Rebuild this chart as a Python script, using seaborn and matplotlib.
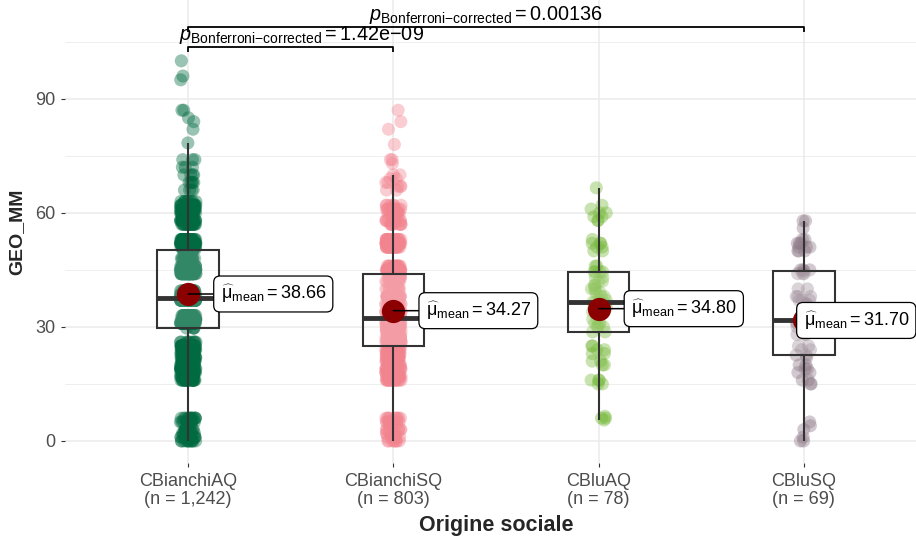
import numpy as np
import pandas as pd
import matplotlib
matplotlib.use("Agg")
import matplotlib.pyplot as plt
import matplotlib.transforms as mtransforms
import seaborn as sns

# ---- data -------------------------------------------------------------
categories = ["CBianchiAQ", "CBianchiSQ", "CBluAQ", "CBluSQ"]
group_sizes = [1242, 803, 78, 69]

# GEO_MM scores per group: distinct score values and how many pupils got each
aq_values = [0, 1, 2, 3, 5, 6,
             16, 17, 18, 19, 20, 21, 22, 23, 24, 25, 26,
             29.7, 31, 32, 33, 37, 37.6, 38.5, 39.5, 44, 45, 46, 48, 50.3,
             51, 52, 53, 57, 58, 60, 61, 62, 63,
             66, 68, 70, 72, 74, 78.4, 82, 84, 85, 87, 95, 96, 100]
aq_counts = [12, 10, 11, 12, 12, 13,
             25, 20, 25, 25, 20, 25, 25, 20, 25, 20, 10,
             4, 60, 60, 30, 80, 80, 60, 20, 60, 80, 40, 20, 30,
             40, 60, 30, 25, 30, 30, 30, 25, 10,
             4, 5, 4, 3, 3, 1, 1, 1, 1, 2, 1, 1, 1]

sq_values = [0, 1, 2, 3, 5, 6,
             16, 17, 18, 19, 20, 21, 22, 23, 24, 25,
             26, 27, 28, 29, 30, 31, 32.4, 34, 36, 38,
             40, 42, 43, 43.9, 45, 46, 51, 52, 53,
             57, 58, 60, 61, 62, 66, 67, 68, 69, 70,
             73, 74, 78, 82, 84, 87]
sq_counts = [8, 6, 6, 8, 8, 9,
             18, 15, 18, 18, 16, 18, 18, 15, 18, 6,
             25, 25, 25, 20, 30, 40, 40, 40, 40, 40,
             15, 25, 25, 10, 40, 15, 25, 35, 20,
             9, 10, 10, 10, 6, 2, 3, 2, 2, 2,
             1, 2, 1, 1, 1, 1]

bluaq_values = [5.5, 6, 6.5, 15, 16, 20, 21, 23, 24, 25, 28.7, 30, 31, 32,
                34, 35, 36, 36.6, 37, 38, 39, 40, 41, 42, 43, 44.5, 46,
                50, 51, 52, 53, 58, 59, 60, 61, 62, 66.6]
bluaq_counts = [1, 2, 1, 2, 3, 2, 2, 2, 2, 2, 2, 3, 3, 2,
                3, 3, 3, 2, 2, 2, 2, 3, 2, 2, 2, 4, 2,
                2, 2, 3, 1, 2, 2, 2, 1, 1, 1]

blusq_values = [0, 1, 3, 4, 5, 15, 16, 18, 19, 20, 22, 22.6, 24, 25,
                28, 29, 30, 31, 31.8, 33, 36, 37, 38, 40, 44, 44.7, 45,
                50, 51, 52, 53, 56, 57.9]
blusq_counts = [2, 1, 1, 1, 1, 2, 2, 2, 2, 2, 1, 2, 2, 2,
                3, 2, 3, 3, 1, 2, 3, 3, 3, 2, 3, 1, 3,
                3, 3, 3, 2, 1, 2]

group_means = [38.66, 34.27, 34.80, 31.70]

# pairwise comparisons: (first group, second group, adjusted p-value text)
comparisons = [(0, 1, "1.42e\u221209"), (0, 3, "0.00136")]

palette = ["#006A40", "#F2848F", "#76B83A", "#8E7A88"]

# ---- tidy table -------------------------------------------------------
value_sets = [(aq_values, aq_counts), (sq_values, sq_counts),
              (bluaq_values, bluaq_counts), (blusq_values, blusq_counts)]
frames = []
for cat, (vals, cnts) in zip(categories, value_sets):
    frames.append(pd.DataFrame({"Origine sociale": cat,
                                "GEO_MM": np.repeat(vals, cnts)}))
df = pd.concat(frames, ignore_index=True)

tick_labels = [f"{c}\n(n = {n:,})" for c, n in zip(categories, group_sizes)]

# ---- style ------------------------------------------------------------
sns.set_theme(style="white")
plt.rcParams["font.family"] = ["Liberation Sans", "DejaVu Sans"]
plt.rcParams["mathtext.fontset"] = "custom"
plt.rcParams["mathtext.rm"] = "Liberation Sans"
plt.rcParams["mathtext.it"] = "Liberation Sans:italic"
plt.rcParams["mathtext.bf"] = "Liberation Sans:bold"

fig = plt.figure(figsize=(9.16, 5.37), dpi=100)
W, H = 916, 537
ax = fig.add_axes([65 / W, 74 / H, 862 / W, 463 / H])

np.random.seed(7)
sns.stripplot(data=df, x="Origine sociale", y="GEO_MM", hue="Origine sociale",
              order=categories, hue_order=categories, palette=palette,
              jitter=0.038, size=9.4, alpha=0.4, linewidth=0, legend=False,
              ax=ax, zorder=2)

sns.boxplot(data=df, x="Origine sociale", y="GEO_MM", order=categories,
            width=0.3, showfliers=False, showcaps=False, whis=1.5,
            linecolor="#333333", linewidth=1.5,
            boxprops=dict(facecolor=(1, 1, 1, 0.2), edgecolor="#333333",
                          linewidth=1.5, zorder=3),
            whiskerprops=dict(color="#333333", linewidth=1.5, zorder=3),
            medianprops=dict(color="#333333", linewidth=3.5, zorder=3),
            ax=ax)

# group means with labels
xs = np.arange(len(categories))
ax.scatter(xs, group_means, s=280, color="#8B0000", zorder=6, linewidths=0)
label_tf = mtransforms.blended_transform_factory(fig.transFigure, ax.transData)
for i, m in enumerate(group_means):
    txt = r"$\widehat{\mathrm{\mu}}_{\text{mean}}=\text{" + f"{m:.2f}" + "}$"
    if i == len(group_means) - 1:
        pos, coords, ha = (1 - 7 / W, m), label_tf, "right"
    else:
        pos, coords, ha = (i + 0.158, m), "data", "left"
    ax.annotate(txt, xy=(i, m), xytext=pos, textcoords=coords,
                ha=ha, va="center", fontsize=13, color="black", zorder=7,
                bbox=dict(boxstyle="round,pad=0.38,rounding_size=0.35",
                          fc="white", ec="black", lw=0.9),
                arrowprops=dict(arrowstyle="-", color="black", lw=1.1,
                                shrinkA=0, shrinkB=0))

# significance brackets
bracket_levels = [103.6, 108.9]
label_shift = [0.05, -0.05]
tip = 1.3
for (a, b, ptxt), yb, dx in zip(comparisons, bracket_levels, label_shift):
    ax.plot([a, a, b, b], [yb - tip, yb, yb, yb - tip], color="black",
            lw=1.3, solid_capstyle="butt", zorder=4, clip_on=False)
    label = ("$p_{\\text{Bonferroni\u2212corrected}}=\\text{" + ptxt + "}$")
    ax.text((a + b) / 2 + dx, yb + 0.2, label,
            ha="center", va="bottom", fontsize=14.3, color="black")

# axes
ax.set_xlim(-0.6, 3.6)
ax.set_ylim(-5.8, 116)
ax.set_yticks([0, 30, 60, 90])
ax.set_yticks([15, 45, 75, 105], minor=True)
ax.set_xticks(xs)
ax.set_xticklabels(tick_labels, linespacing=1.1)
ax.grid(True, which="major", color="#EBEBEB", lw=1.1)
ax.grid(True, which="minor", axis="y", color="#EBEBEB", lw=0.6)
ax.set_axisbelow(True)
for s in ax.spines.values():
    s.set_visible(False)
ax.tick_params(axis="both", which="major", length=3, width=0.8,
               color="#333333", labelsize=13, labelcolor="#4D4D4D",
               bottom=True, left=True, pad=4)
ax.tick_params(axis="y", which="minor", length=0)
ax.set_xlabel("Origine sociale", fontsize=15.5, fontweight="bold", labelpad=5)
ax.set_ylabel("GEO_MM", fontsize=14, fontweight="bold", labelpad=7)

fig.savefig("out.png", dpi=100, facecolor="white")
